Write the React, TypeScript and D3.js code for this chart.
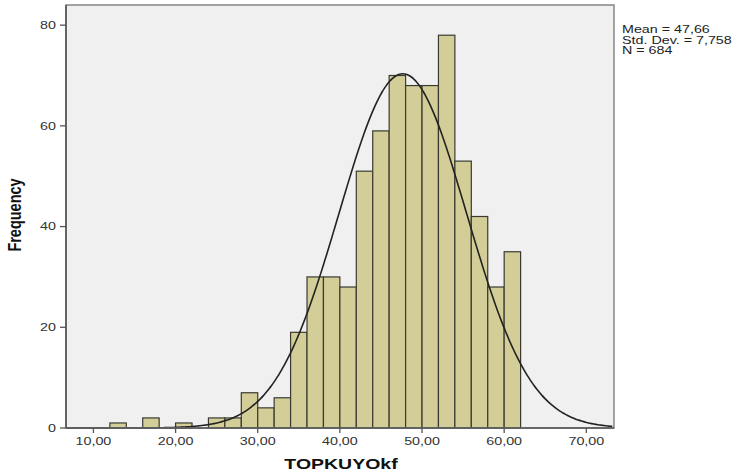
import React from 'react';
import * as d3 from 'd3';

// histogram bins (lower edge, width 2) and their counts
const binStarts = [12, 14, 16, 18, 20, 22, 24, 26, 28, 30, 32, 34, 36, 38, 40, 42, 44, 46, 48, 50, 52, 54, 56, 58, 60];
const counts = [1, 0, 2, 0, 1, 0, 2, 2, 7, 4, 6, 19, 30, 30, 28, 51, 59, 70, 68, 68, 78, 53, 42, 28, 35];
const binWidth = 2;

const xTicks = [10, 20, 30, 40, 50, 60, 70];
const yTicks = [0, 20, 40, 60, 80];

const MEAN = 47.66;
const SD = 7.758;
const N = 684;
const statsLines = ['Mean = 47,66', 'Std. Dev. = 7,758', 'N = 684'];

const width = 733;
const height = 475;
const left = 66;
const right = 614;
const top = 5;
const bottom = 428;
const stretch = 1.3; // the original image is horizontally stretched

const fmt = (v: number) => v.toFixed(2).replace('.', ',');

// text drawn with horizontal stretch around its anchor
function SText({ x, y, rotate = 0, children, ...rest }: any) {
  return (
    <text transform={`translate(${x},${y}) scale(${stretch},1) rotate(${rotate})`} {...rest}>
      {children}
    </text>
  );
}

export default function App() {
  const x = d3.scaleLinear().domain([6.66, 73.37]).range([left, right]);
  const y = d3.scaleLinear().domain([0, 84]).range([bottom, top]);

  // fitted normal curve scaled to counts
  const pdf = (v: number) =>
    (N * binWidth) / (SD * Math.sqrt(2 * Math.PI)) * Math.exp(-0.5 * ((v - MEAN) / SD) ** 2);
  const curveXs = d3.range(x.domain()[0], x.domain()[1] + 0.01, 0.25);
  const line = d3.line<number>().x(v => x(v)).y(v => y(pdf(v))).curve(d3.curveBasis);

  return (
    <svg width={width} height={height} style={{ position: 'absolute', left: 0, top: 0 }}
      fontFamily="'Liberation Sans', Arial, sans-serif">
      <rect x={left} y={top} width={right - left} height={bottom - top} fill="#f0f0f0" />
      {binStarts.map((b, i) => counts[i] > 0 && (
        <rect key={b} x={x(b)} y={y(counts[i])} width={x(b + binWidth) - x(b)}
          height={y(0) - y(counts[i])} fill="#d3ce97" stroke="#3a3a32" strokeWidth={1.2} />
      ))}
      <path d={line(curveXs) || ''} fill="none" stroke="#222" strokeWidth={1.6} />
      <rect x={left} y={top} width={right - left} height={bottom - top} fill="none" stroke="#8c8c8c" strokeWidth={1.6} />
      <line x1={left} x2={left} y1={top} y2={bottom} stroke="#555" strokeWidth={1.6} />
      <line x1={left} x2={right} y1={bottom} y2={bottom} stroke="#555" strokeWidth={1.6} />
      {yTicks.map(t => (
        <g key={t}>
          <line x1={left - 6} x2={left} y1={y(t)} y2={y(t)} stroke="#555" strokeWidth={1.3} />
          <SText x={left - 10} y={y(t)} dy="0.35em" textAnchor="end" fontSize={11} fill="#333">{t}</SText>
        </g>
      ))}
      {xTicks.map(t => (
        <g key={t}>
          <line x1={x(t)} x2={x(t)} y1={bottom} y2={bottom + 5} stroke="#555" strokeWidth={1.3} />
          <SText x={x(t)} y={bottom + 17} textAnchor="middle" fontSize={11} fill="#333">{fmt(t)}</SText>
        </g>
      ))}
      <SText x={341} y={469} textAnchor="middle" fontSize={15} fontWeight="bold" fill="#111">TOPKUYOkf</SText>
      <SText x={21} y={215} rotate={-90} textAnchor="middle"
        fontSize={14.5} fontWeight="bold" fill="#111">Frequency</SText>
      {statsLines.map((s, i) => (
        <SText key={s} x={622} y={33 + i * 10.7} fontSize={11} fill="#222">{s}</SText>
      ))}
    </svg>
  );
}
